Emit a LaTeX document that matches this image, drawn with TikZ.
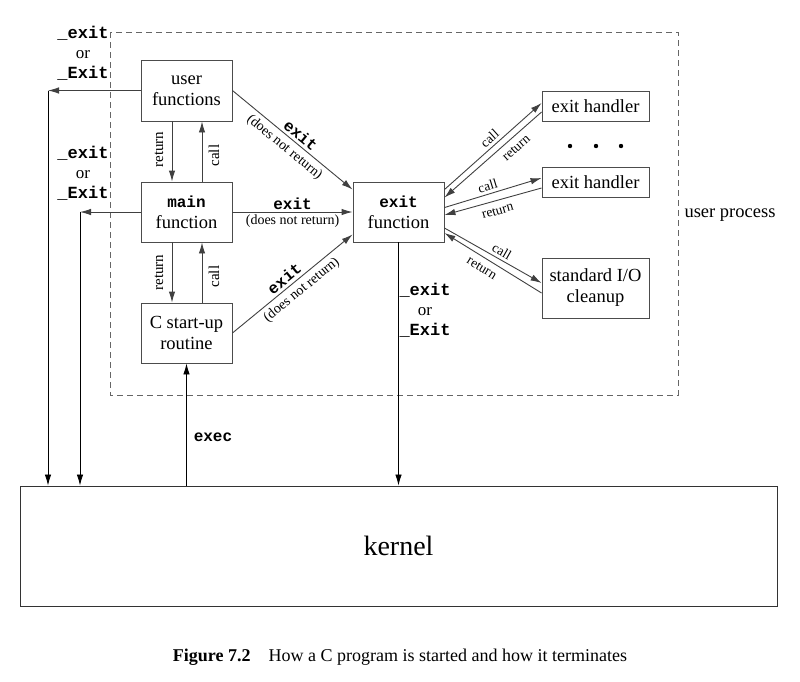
\documentclass[tikz,border=0pt]{standalone}
\usepackage{fontspec}
\setmainfont{Liberation Serif}
\newfontfamily\cour{Liberation Mono}
\usetikzlibrary{arrows.meta,calc}
\begin{document}
\begin{tikzpicture}[x=1pt,y=-1pt,
  box/.style={draw=black!70, line width=0.9pt, minimum width=91pt, minimum height=60pt, inner sep=0pt, align=center, font=\fontsize{18.5}{21}\selectfont},
  hbox/.style={box, minimum width=107pt, minimum height=30pt},
  conn/.style={draw=black!75, line width=0.9pt, -{Latex[length=11pt,width=6.5pt]}},
  kconn/.style={draw=black, line width=0.8pt, -{Latex[length=11pt,width=6.5pt]}},
  sm/.style={font=\fontsize{13.5}{15}\selectfont, inner sep=3pt},
  smr/.style={font=\fontsize{13.5}{15}\selectfont, inner sep=6pt},
  md/.style={font=\fontsize{14}{16}\selectfont, inner sep=4pt},
  vl/.style={font=\fontsize{15}{17}\selectfont, inner sep=0pt},
  tt/.style={font=\fontsize{16}{19}\selectfont\cour\bfseries, inner sep=3pt},
  lbl/.style={align=center, font=\fontsize{17}{20}\selectfont, inner sep=0pt},
]
\useasboundingbox (0,0) rectangle (800,681);
\draw[black!60, line width=0.8pt, dash pattern=on 6pt off 4pt] (110,32) rectangle (678,395);

\node[box, minimum height=61pt] (user) at (186.5,90.5) {user\\functions};
\node[box] (main) at (186.5,212) {{\fontsize{16}{21}\cour\bfseries main}\\function};
\node[box] (cstart) at (186.5,333) {C start-up\\routine};
\node[box] (exitf) at (398.5,212) {{\fontsize{16}{21}\cour\bfseries exit}\\function};
\node[hbox] (eh1) at (595.5,106) {exit handler};
\node[hbox] (eh2) at (595.5,182) {exit handler};
\node[hbox, minimum height=60pt] (stdio) at (595.5,288) {standard I/O\\cleanup};
\node[draw=black!80, line width=0.9pt, minimum width=757pt, minimum height=120pt, font=\fontsize{28}{32}\selectfont] (kernel) at (398.5,546) {kernel};

% exit arrows into exit function
\draw[conn] (user.east) -- node[tt, sloped, above, pos=0.52]{exit} node[md, sloped, below, pos=0.49]{(does not return)} ([yshift=-8pt]exitf.north west);
\draw[conn] (main.east) -- node[tt, above, inner sep=2pt]{exit} node[md, below, inner sep=2pt]{(does not return)} (exitf.west);
\draw[conn] (cstart.east) -- node[tt, sloped, above, pos=0.48]{exit} node[md, sloped, below, pos=0.52]{(does not return)} ([yshift=8pt]exitf.south west);

% return / call
\draw[conn] ([xshift=-14.5pt]user.south) -- node[vl, xshift=-13pt, yshift=2pt, rotate=90]{return} ([xshift=-14.5pt]main.north);
\draw[conn] ([xshift=15.5pt]main.north) -- node[vl, xshift=12pt, yshift=-4pt, rotate=90]{call} ([xshift=15.5pt]user.south);
\draw[conn] ([xshift=-14.5pt]main.south) -- node[vl, xshift=-13pt, rotate=90]{return} ([xshift=-14.5pt]cstart.north);
\draw[conn] ([xshift=15.5pt]cstart.north) -- node[vl, xshift=12pt, yshift=-4pt, rotate=90]{call} ([xshift=15.5pt]main.south);

% exit handlers
\draw[conn] ([yshift=-8pt]exitf.north east) -- node[sm, sloped, above, pos=0.52]{call} ([yshift=3pt]eh1.west);
\draw[conn] ([yshift=-6pt]eh1.west) -- node[smr, sloped, below, pos=0.33]{return} ([yshift=-16pt]exitf.north east);
\draw[conn] ([yshift=-26pt]exitf.north east) -- node[sm, sloped, above, pos=0.47]{call} ([yshift=4pt]eh2.west);
\draw[conn] ([yshift=-6pt]eh2.west) -- node[smr, sloped, below, pos=0.48]{return} ([yshift=-3pt]exitf.east);
\draw[conn] ([yshift=-16pt]exitf.east) -- node[sm, sloped, above, pos=0.55]{call} ([yshift=5pt]stdio.west);
\draw[conn] ([yshift=-5pt]stdio.west) -- node[smr, sloped, below, pos=0.56]{return} ([yshift=-21pt]exitf.east);

% dots
\fill (570,146) circle (2.2pt);
\fill (596,146) circle (2.2pt);
\fill (621,146) circle (2.2pt);

% to kernel
\coordinate (c1) at (48,90.5);
\coordinate (c2) at (80,212);
\draw[conn] (user.west) -- (c1);
\draw[kconn] (c1) -- (c1 |- kernel.north);
\draw[conn] (main.west) -- (c2);
\draw[kconn] (c2) -- (c2 |- kernel.north);
\draw[kconn] (cstart.south |- kernel.north) -- (cstart.south);
\draw[kconn] (exitf.south) -- (exitf.south |- kernel.north);

% labels
\node[lbl] at (83,53) {{\cour\bfseries \_exit}\\or\\{\cour\bfseries \_Exit}};
\node[lbl] at (83,173) {{\cour\bfseries \_exit}\\or\\{\cour\bfseries \_Exit}};
\node[lbl] at (425,310) {{\cour\bfseries \_exit}\\or\\{\cour\bfseries \_Exit}};
\node[tt] at (213,437) {exec};
\node[anchor=west, font=\fontsize{18.5}{21}\selectfont] at (681,215) {user process};
\node[font=\fontsize{18}{21}\selectfont] at (400,657) {\textbf{Figure 7.2}\quad How a C program is started and how it terminates};
\end{tikzpicture}
\end{document}
